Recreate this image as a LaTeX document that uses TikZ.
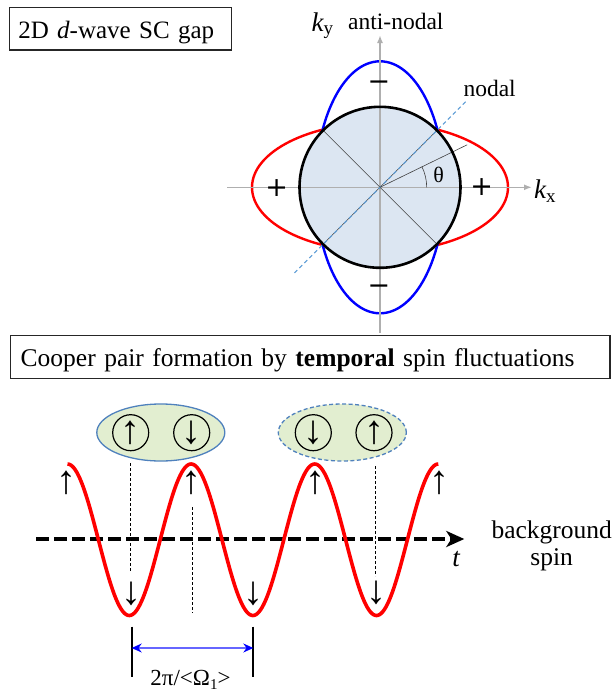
\documentclass[tikz,border=0pt]{standalone}
\usepackage{fontspec}
\setmainfont{Liberation Serif}
\newfontfamily\djv{DejaVu Sans}
\usetikzlibrary{shapes.geometric,arrows.meta,calc}
\definecolor{axgray}{RGB}{175,175,175}
\definecolor{fillblue}{RGB}{220,230,242}
\definecolor{nodblue}{RGB}{91,155,213}
\definecolor{pairgreen}{RGB}{226,238,208}
\definecolor{pairedge}{RGB}{79,129,189}
\tikzset{
  titlebox/.style={draw=black!85, line width=1.2pt, inner ysep=0pt, align=left,
    text depth=5pt, minimum height=42.7pt},
  lbl/.style={inner sep=0pt},
  gaxis/.style={draw=axgray, line width=1.6pt, -{Latex[length=8pt,width=6pt]}},
  lobered/.style={draw=red, line width=2.4pt},
  lobeblue/.style={draw=blue, line width=2.4pt},
  fermi/.style={fill=fillblue, draw=black, line width=2.6pt},
  thinblack/.style={draw=black!75, line width=0.6pt},
  nodline/.style={draw=nodblue, line width=1.1pt, dash pattern=on 4pt off 3pt},
  signlbl/.style={inner sep=0pt, font=\djv\fontsize{27}{30}\selectfont},
  wave/.style={draw=red, line width=3.6pt, line join=round},
  taxis/.style={draw=black, line width=3.6pt, dash pattern=on 13pt off 5pt,
    -{Stealth[length=18pt,width=16pt,inset=5pt]}},
  spinarrow/.style={inner sep=0pt, font=\fontsize{40}{44}\selectfont},
  spincirc/.style={circle, draw=black, line width=1.2pt, minimum size=36pt, inner sep=0pt,
    font=\fontsize{40}{44}\selectfont},
  pairell/.style={ellipse, draw=pairedge, fill=pairgreen, line width=1.3pt,
    minimum width=128pt, minimum height=57pt, inner sep=0pt},
  dotline/.style={draw=black, line width=0.9pt, dash pattern=on 3pt off 2pt},
  barline/.style={draw=black, line width=2pt},
  periodarrow/.style={draw=blue!60, line width=1.2pt,
    {Stealth[length=10pt,width=9pt,color=blue]}-{Stealth[length=10pt,width=9pt,color=blue]}}
}
\begin{document}
\begin{tikzpicture}[x=1pt,y=-1pt]
\useasboundingbox (0,0) rectangle (612,691);

% ---------- top panel ----------
\node[titlebox, text width=204.4pt, inner xsep=9pt, text height=24.3pt,
  font=\fontsize{25}{30}\selectfont] (title1) at (120.5,28.65)
  {2D \textit{d}-wave SC gap};

\coordinate (C) at (380,187.3);
\draw[lobered] (C) ellipse [x radius=128pt, y radius=64.5pt];
\draw[lobeblue] (C) ellipse [x radius=64.5pt, y radius=126pt];
\fill[fillblue] (C) circle [radius=80.5pt];

\coordinate (xs) at (227.3,187.3);
\coordinate (xe) at (532,187.3);
\coordinate (ys) at (380,333);
\coordinate (ye) at (380,35);
\draw[gaxis] (xs) -- (xe);
\draw[gaxis] (ys) -- (ye);

\draw[thinblack] ($(C)+(135:80.5pt)$) coordinate (d1) -- ($(C)+(-45:80.5pt)$) coordinate (d2);
\draw[thinblack] ($(C)+(225:80.5pt)$) coordinate (d3) -- ($(C)+(45:80.5pt)$) coordinate (d4);
\draw[nodline] ($(C)+(225:121pt)$) coordinate (n1) -- ($(C)+(45:121pt)$) coordinate (n2);
\draw[thinblack] (C) -- ($(C)+(26:97pt)$) coordinate (th);
\draw[thinblack] ($(C)+(46.7pt,0pt)$) arc [start angle=0, end angle=26, radius=46.7pt];
\draw[fermi, fill=none] (C) circle [radius=80.5pt];

\node[lbl, anchor=base west] (ky) at (311.5,31.7)
  {{\fontsize{27}{30}\selectfont\itshape k}\raisebox{-3pt}{\fontsize{19}{20}\selectfont y}};
\node[lbl, anchor=base west, font=\fontsize{23.5}{26}\selectfont] (anti) at (348,29.5) {anti-nodal};
\node[lbl, anchor=base west, font=\fontsize{23.5}{26}\selectfont] (nodal) at (463.3,96.5) {nodal};
\node[lbl, anchor=base west] (kx) at (534,198)
  {{\fontsize{27}{30}\selectfont\itshape k}\raisebox{-4pt}{\fontsize{19}{20}\selectfont x}};
\node[lbl, font=\fontsize{22}{24}\selectfont] (theta) at (438.7,174.5) {θ};

\node[signlbl] (pl) at (276.7,187.7) {+};
\node[signlbl] (pr) at (481.7,187.3) {+};
\node[signlbl] (mt) at (379,85.3) {−};
\node[signlbl] (mb) at (379,290) {−};

% ---------- bottom panel ----------
\node[titlebox, text width=579.3pt, inner xsep=10pt, text height=24.9pt,
  font=\fontsize{25.5}{30}\selectfont] (title2) at (310.35,356.75)
  {Cooper pair formation by \textbf{temporal} spin fluctuations};

\node[pairell] (pair1) at (160.8,432.5) {};
\node[pairell, dash pattern=on 4pt off 2.5pt] (pair2) at (342.3,432.5) {};
\node[spincirc] (s1) at (130.7,432.7) {↑};
\node[spincirc] (s2) at (191.7,432.7) {↓};
\node[spincirc] (s3) at (313.3,432.7) {↓};
\node[spincirc] (s4) at (374,432.7) {↑};

\coordinate (ta) at (36,539);
\coordinate (tb) at (464.3,539);
\draw[taxis] (ta) -- (tb);

\draw[wave] plot[domain=0:1080, samples=241, smooth]
  ({67.5+\x/360*123.6}, {539.75-75.75*cos(\x)});

\coordinate (v1a) at (130.7,463); \coordinate (v1b) at (130.7,572);
\coordinate (v2a) at (192,507);   \coordinate (v2b) at (192,613);
\coordinate (v3a) at (375.5,466); \coordinate (v3b) at (375.5,576);
\draw[dotline] (v1a) -- (v1b);
\draw[dotline] (v2a) -- (v2b);
\draw[dotline] (v3a) -- (v3b);

\node[spinarrow] (u1) at (66.7,483) {↑};
\node[spinarrow] (u2) at (191.7,483) {↑};
\node[spinarrow] (u3) at (315.5,483) {↑};
\node[spinarrow] (u4) at (439,483) {↑};
\node[spinarrow] (w1) at (131,594) {↓};
\node[spinarrow] (w2) at (253.5,594) {↓};
\node[spinarrow] (w3) at (376,593) {↓};

\node[lbl, anchor=base, font=\fontsize{27}{30}\selectfont\itshape] (t) at (456,566.7) {t};
\node[lbl, align=center, font=\fontsize{25.5}{27.7}\selectfont] (bg) at (551.7,546) {background\\spin};

\coordinate (b1a) at (131.7,626.7); \coordinate (b1b) at (131.7,676.7);
\coordinate (b2a) at (253.3,626.7); \coordinate (b2b) at (253.3,676.7);
\draw[barline] (b1a) -- (b1b);
\draw[barline] (b2a) -- (b2b);
\draw[periodarrow] (131.7,648) coordinate (pa) -- (253.3,648) coordinate (pb);
\node[lbl, anchor=base, font=\fontsize{23}{25}\selectfont] (per) at (190.5,685)
  {2π/<Ω\raisebox{-4pt}{\fontsize{15}{16}\selectfont 1}>};
\end{tikzpicture}
\end{document}
